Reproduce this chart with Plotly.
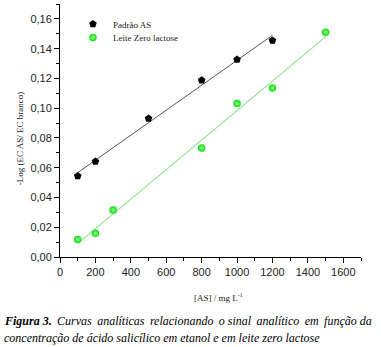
import numpy as np
import plotly.graph_objects as go

# Data
padrao_x = [100, 200, 500, 800, 1000, 1200]
padrao_y = [0.0545, 0.0641, 0.0930, 0.1188, 0.1327, 0.1455]
leite_x = [100, 200, 300, 800, 1000, 1200, 1500]
leite_y = [0.0117, 0.0159, 0.0316, 0.0733, 0.1031, 0.1136, 0.1511]
y_ticks = [0.00, 0.02, 0.04, 0.06, 0.08, 0.10, 0.12, 0.14, 0.16]
x_ticks = [0, 200, 400, 600, 800, 1000, 1200, 1400, 1600]

def fit(xs, ys):
    m, b = np.polyfit(xs, ys, 1)
    xe = [min(xs), max(xs)]
    return xe, [m * v + b for v in xe]

fx1, fy1 = fit(padrao_x, padrao_y)
fx2, fy2 = fit(leite_x, leite_y)

fig = go.Figure()
fig.add_trace(go.Scatter(x=fx1, y=fy1, mode="lines", line=dict(color="#555555", width=1), showlegend=False, hoverinfo="skip"))
fig.add_trace(go.Scatter(x=fx2, y=fy2, mode="lines", line=dict(color="#9be89b", width=1.2), showlegend=False, hoverinfo="skip"))
fig.add_trace(go.Scatter(x=padrao_x, y=padrao_y, mode="markers", name="Padrão AS", legend="legend",
                         marker=dict(symbol="pentagon", size=8, color="black")))
fig.add_trace(go.Scatter(x=leite_x, y=leite_y, mode="markers", name="Leite Zero lactose", legend="legend2",
                         marker=dict(symbol="circle", size=7.5, color="#10d810",
                                     line=dict(width=0),
                                     gradient=dict(type="radial", color="#90ff90"))))

serif = "Liberation Serif, Times New Roman, serif"
sans = "Liberation Sans, Arial, sans-serif"
legfont = dict(family=serif, size=9, color="#222")

ts = "\u2009"
words = "Curvas analíticas relacionando o sinal analítico em função da".split(" ")
body = ""
for i, w in enumerate(words):
    if i > 0:
        body += " " + (ts if i % 4 != 0 else "")
    body += w
line1 = "<b><i>Figura 3.</i></b><i> " + ts + body + "</i>"

fig.update_layout(
    width=381, height=347,
    margin=dict(l=60, r=20, t=4, b=90),
    paper_bgcolor="white", plot_bgcolor="white",
    separators=",.",
    showlegend=True,
    legend=dict(x=0.043, y=0.978, xanchor="left", yanchor="top", bgcolor="rgba(0,0,0,0)",
                font=legfont, itemwidth=30),
    legend2=dict(x=0.043, y=0.925, xanchor="left", yanchor="top", bgcolor="rgba(0,0,0,0)",
                 font=legfont, itemwidth=30),
    xaxis=dict(range=[0, 1700], tickvals=x_ticks, ticks="outside", ticklen=5, tickwidth=1,
               tickcolor="black", showline=True, linecolor="black", linewidth=1,
               showgrid=False, zeroline=False,
               tickfont=dict(family=sans, size=11, color="#222"),
               minor=dict(dtick=100, ticks="outside", ticklen=3, tickcolor="black")),
    yaxis=dict(range=[0, 0.17], tickvals=y_ticks, tickformat=".2f", ticks="outside", ticklen=5,
               tickwidth=1, tickcolor="black", showline=True, linecolor="black", linewidth=1,
               showgrid=False, zeroline=False,
               tickfont=dict(family=sans, size=11, color="#222"),
               minor=dict(dtick=0.01, ticks="outside", ticklen=3, tickcolor="black")),
    annotations=[
        dict(text="-Log (EC AS/ EC branco)", xref="paper", yref="paper", x=-0.156, y=0.47,
             textangle=-90, showarrow=False, font=dict(family=serif, size=9, color="#222")),
        dict(text="[AS] / mg L<sup>-1</sup>", xref="paper", yref="paper", x=0.525, y=-0.158,
             yanchor="middle", showarrow=False, font=dict(family=serif, size=9, color="#222")),
        dict(text=line1,
             xref="paper", yref="paper", x=-0.192, y=-0.251, xanchor="left", yanchor="middle",
             showarrow=False, font=dict(family=serif, size=12, color="black")),
        dict(text="<i>concentração de ácido salicílico em etanol e em leite zero lactose</i>",
             xref="paper", yref="paper", x=-0.192, y=-0.322, xanchor="left", yanchor="middle",
             showarrow=False, font=dict(family=serif, size=12, color="black")),
    ],
)

fig.write_html("out.html", config={"displayModeBar": False},
               post_script="document.body.style.margin='0';")
